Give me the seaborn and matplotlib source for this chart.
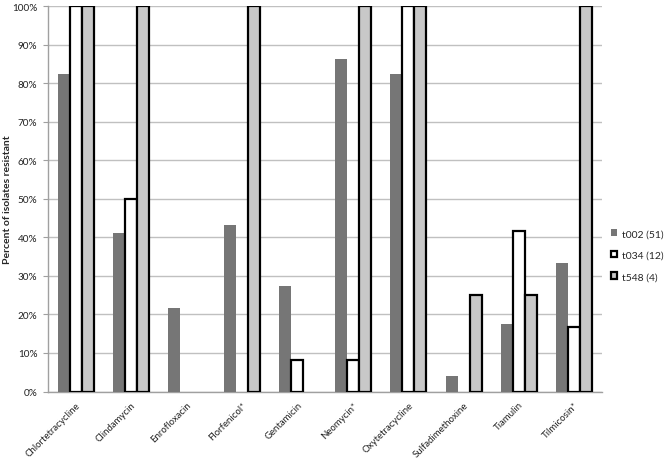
import numpy as np
import pandas as pd
import matplotlib
matplotlib.use("Agg")
import matplotlib.pyplot as plt
import matplotlib.transforms as mtrans
import seaborn as sns
from matplotlib.ticker import PercentFormatter
from matplotlib.patches import Patch

# -----------------------------
# DATA
# -----------------------------
drugs = ['Chlortetracycline', 'Clindamycin', 'Enrofloxacin', 'Florfenicol*',
         'Gentamicin', 'Neomycin*', 'Oxytetracycline', 'Sulfadimethoxine',
         'Tiamulin', 'Tilmicosin*']
series = ['t002 (51)', 't034 (12)', 't548 (4)']
t002 = [82.4, 41.2, 21.6, 43.1, 27.5, 86.3, 82.4, 3.9, 17.6, 33.3]
t034 = [100, 50, 0, 0, 8.3, 8.3, 100, 0, 41.7, 16.7]
t548 = [100, 100, 0, 100, 0, 100, 100, 25, 25, 100]

df = pd.DataFrame({
    'drug': drugs * 3,
    'spa': [series[0]] * 10 + [series[1]] * 10 + [series[2]] * 10,
    'pct': t002 + t034 + t548,
})

# -----------------------------
# PLOT
# -----------------------------
sns.set_style("white")
plt.rcParams['font.family'] = ['Lato', 'DejaVu Sans']

fig = plt.figure(figsize=(6.7, 4.6), dpi=100)
ax = fig.add_axes([0.0716, 0.1467, 0.827, 0.838])

fills = ['#767676', '#ffffff', '#c8c8c8']
sns.barplot(data=df, x='drug', y='pct', hue='spa', order=drugs,
            hue_order=series, palette=fills, width=0.65, saturation=1,
            ax=ax, legend=False, zorder=3)

for i, cont in enumerate(ax.containers):
    for p in cont:
        if i == 0:
            p.set_edgecolor('none')
        else:
            p.set_edgecolor('black')
            p.set_linewidth(1.6)
        if p.get_height() == 0:
            p.set_visible(False)

ax.set_ylim(0, 100)
ax.set_xlim(-0.5, len(drugs) - 0.5)
ax.set_yticks(np.arange(0, 101, 10))
ax.yaxis.set_major_formatter(PercentFormatter(decimals=0))
ax.yaxis.grid(True, color='#c0c0c0', linewidth=1, zorder=0)
ax.set_axisbelow(True)

ax.set_xticks(np.arange(len(drugs)))
ax.set_xticklabels(drugs, rotation=45, ha='right', rotation_mode='anchor',
                   fontsize=6.9, color='#222222')
shift = mtrans.ScaledTranslation(7 / 100, 0, fig.dpi_scale_trans)
for lab in ax.get_xticklabels():
    lab.set_transform(lab.get_transform() + shift)
ax.set_xticks(np.arange(len(drugs) + 1) - 0.5, minor=True)
ax.tick_params(axis='x', which='major', length=0, pad=6)
ax.tick_params(axis='x', which='minor', length=4, color='#a0a0a0')
ax.tick_params(axis='y', length=3.6, color='#a0a0a0', labelsize=7.2, pad=4,
               labelcolor='#222222', left=True)

for s in ['top', 'right']:
    ax.spines[s].set_visible(False)
for s in ['left', 'bottom']:
    ax.spines[s].set_color('#a0a0a0')
    ax.spines[s].set_linewidth(1)

ax.set_xlabel('')
ax.set_ylabel('Percent of isolates resistant', fontsize=7.5,
              fontweight='bold')
ax.yaxis.set_label_coords(-0.065, 0.5)

# legend
handles = [Patch(facecolor=fills[0], edgecolor='none'),
           Patch(facecolor=fills[1], edgecolor='black', linewidth=1.6),
           Patch(facecolor=fills[2], edgecolor='black', linewidth=1.6)]
fig.legend(handles, series, loc='center left', bbox_to_anchor=(0.906, 0.443),
           frameon=False, fontsize=7.5, handlelength=0.6, handleheight=0.6,
           handletextpad=0.4, labelspacing=1.2, borderaxespad=0)

fig.savefig('out.png', dpi=100)
